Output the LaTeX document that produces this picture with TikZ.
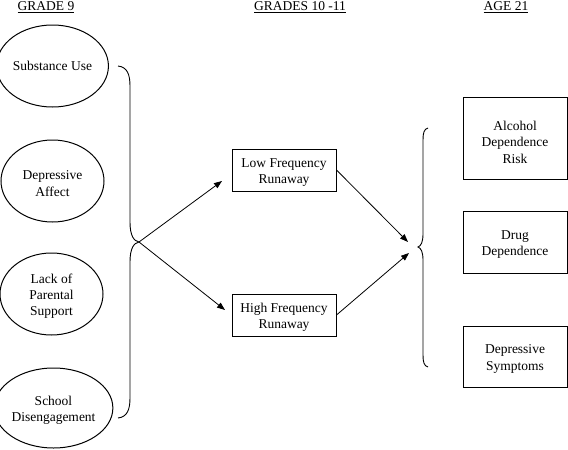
\documentclass[tikz,border=0pt]{standalone}
\usepackage{fontspec}
\setmainfont{Liberation Serif}
\usetikzlibrary{arrows.meta,shapes.geometric}
\newcommand{\topstrut}{\rule{0pt}{14pt}}
\begin{document}
\begin{tikzpicture}[x=1pt,y=-1pt,
  txt/.style={font=\fontsize{13.5}{16.3}\selectfont, align=center, inner sep=0pt},
  oval/.style={txt, draw, ellipse, minimum width=103pt, minimum height=82pt},
  box/.style={txt, draw, rectangle, minimum width=104pt},
  hdr/.style={font=\fontsize{13.5}{16}\selectfont, inner sep=0pt},
  arr/.style={-{Triangle[length=8pt,width=6pt]}, line width=0.8pt},
  brace/.style={line width=0.9pt},
  line width=1pt]
\useasboundingbox (0,0) rectangle (568,450);
% headers
\node[hdr] (h1) at (46,7) {\underline{GRADE 9}};
\node[hdr] (h2) at (300,7) {\underline{GRADES 10 -11}};
\node[hdr] (h3) at (506,7) {\underline{AGE 21}};
% ellipses
\node[oval] (e1) at (52.5,66) {Substance Use};
\node[oval] (e2) at (52.5,181) {\topstrut Depressive\\Affect};
\node[oval] (e3) at (51.5,294) {\topstrut Lack of\\Parental\\Support};
\node[oval, minimum width=105pt, minimum height=80pt] (e4) at (53.5,408) {\topstrut School\\Disengagement};
% middle boxes
\node[box, minimum height=42pt] (low) at (284,170) {\topstrut Low Frequency\\Runaway};
\node[box, minimum height=42pt] (high) at (284,315) {\topstrut High Frequency\\Runaway};
% right boxes
\node[box, minimum height=82pt] (alc) at (515,138) {\rule{0pt}{18pt}Alcohol\\Dependence\\Risk};
\node[box, minimum height=62pt] (drug) at (515,242) {\topstrut Drug\\Dependence};
\node[box, minimum height=61pt] (dep) at (515,356.5) {\topstrut Depressive\\Symptoms};
% left brace
\coordinate (lt) at (139,242);
\draw[brace] (118,66) .. controls (127,67) and (130,74) .. (130,86)
  -- (130,222) .. controls (130,236) and (134,241) .. (lt)
  .. controls (134,243) and (130,248) .. (130,262)
  -- (130,398) .. controls (130,410) and (127,417) .. (118,418);
% right brace
\coordinate (rt) at (418,247);
\draw[brace] (428,128) .. controls (424,129) and (423,133) .. (423,140)
  -- (423,234) .. controls (423,242) and (421,246) .. (rt)
  .. controls (421,248) and (423,252) .. (423,260)
  -- (423,355) .. controls (423,362) and (424,366) .. (428,367);
% arrows
\coordinate (lowend) at (222,181);
\coordinate (highend) at (225,310);
\coordinate (in1) at (408,242);
\coordinate (in2) at (409,253);
\draw[arr] (lt) -- (lowend);
\draw[arr] (lt) -- (highend);
\draw[arr] (low.east) -- (in1);
\draw[arr] (high.east) -- (in2);
\end{tikzpicture}
\end{document}
